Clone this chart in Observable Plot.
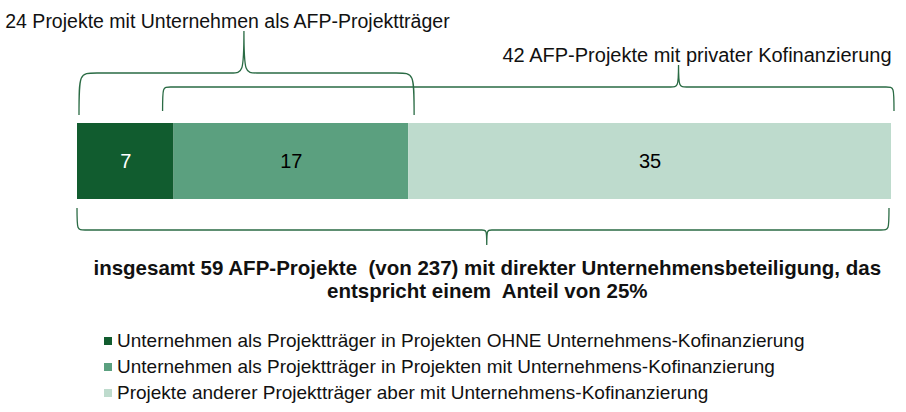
<!DOCTYPE html>
<html>
<head>
<meta charset="utf-8">
<script src="https://cdn.jsdelivr.net/npm/d3@7"></script>
<script src="https://cdn.jsdelivr.net/npm/@observablehq/plot@0.6"></script>
<style>
  body { margin: 0; background: #fff; font-family: "Liberation Sans", Arial, sans-serif; }
  #legend { margin-top: 8px; padding-left: 104px; font-size: 19px; color: #111; }
  #legend .row { height: 26px; line-height: 26px; display: flex; align-items: center; }
  #legend .sw { width: 8px; height: 8px; margin-right: 5px; flex: none; }
</style>
</head>
<body>
<div id="chart"></div>
<div id="legend"></div>
<script>
// ---- data ----
const categories = [
  "Unternehmen als Projektträger in Projekten OHNE Unternehmens-Kofinanzierung",
  "Unternehmen als Projektträger in Projekten mit Unternehmens-Kofinanzierung",
  "Projekte anderer Projektträger aber mit Unternehmens-Kofinanzierung"
];
const values = [7, 17, 35];
const colors = ["#115c2f", "#5ba07f", "#bedbcd"];
const valueColors = ["#ffffff", "#000000", "#000000"];

const braceFrom = [0, 7, 0];
const braceTo = [24, 59, 59];
const bracePeak = [12.1, 43.6, 29.7];
const braceSide = ["top", "top", "bottom"];
const braceLabels = [
  "24 Projekte mit Unternehmen als AFP-Projektträger",
  "42 AFP-Projekte mit privater Kofinanzierung",
  "insgesamt 59 AFP-Projekte  (von 237) mit direkter Unternehmensbeteiligung, das\nentspricht einem  Anteil von 25%"
];

// ---- derived table ----
const ends = d3.cumsum(values);
const rows = categories.map((c, i) => ({
  key: c, value: values[i], x1: ends[i] - values[i], x2: ends[i],
  mid: ends[i] - values[i] / 2, fill: colors[i], tc: valueColors[i], bar: "AFP"
}));
const braces = braceFrom.map((f, i) => ({from: f, to: braceTo[i], peak: bracePeak[i], side: braceSide[i], label: braceLabels[i], bar: "AFP"}));

// brace geometry (pixels, styling)
const braceStyle = [
  {tip: 8, arm: 42, peakH: 42, r: 18, rc: 13, inL: 2, inR: -6},
  {tip: 12, arm: 24, peakH: 22, r: 8, rc: 8, inL: -11, inR: -3},
  {tip: 9, arm: 22, peakH: 15, r: 8, rc: 5, inL: 0, inR: 2}
];

function braceMark(index, scales, values, dimensions) {
  const {x, y} = scales;
  const g = d3.create("svg:g").attr("fill", "none").attr("stroke", "#2a6b44").attr("stroke-width", 1.3);
  const top = y("AFP");
  const bottom = top + y.bandwidth();
  braces.forEach((b, i) => {
    const st = braceStyle[i];
    const s = b.side === "top" ? -1 : 1;
    const base = b.side === "top" ? top : bottom;
    const xa = x(b.from) + st.inL, xb = x(b.to) - st.inR, xc = x(b.peak);
    const yt = base + s * st.tip;
    const yh = yt + s * st.arm;
    const yp = yh + s * st.peakH;
    const p = d3.path();
    p.moveTo(xa, yt);
    p.bezierCurveTo(xa, yh, xa, yh, xa + st.r, yh);
    p.lineTo(xc - st.rc, yh);
    p.bezierCurveTo(xc - st.rc * 0.1, yh, xc, yh, xc, yp);
    p.bezierCurveTo(xc, yh, xc + st.rc * 0.1, yh, xc + st.rc, yh);
    p.lineTo(xb - st.r, yh);
    p.bezierCurveTo(xb, yh, xb, yh, xb, yt);
    g.append("path").attr("d", p.toString());
  });
  return g.node();
}

const plot = Plot.plot({
  width: 906,
  height: 320,
  marginLeft: 77,
  marginRight: 15,
  marginTop: 123,
  marginBottom: 121,
  x: {domain: [0, d3.sum(values)], axis: null},
  y: {domain: ["AFP"], axis: null, padding: 0},
  style: {fontFamily: "'Liberation Sans', Arial, sans-serif"},
  marks: [
    Plot.barX(rows, {x1: "x1", x2: "x2", y: "bar", fill: "fill"}),
    Plot.text(rows, {x: "mid", y: "bar", text: d => String(d.value), fill: "tc", fontSize: 20}),
    braceMark,
    Plot.text(braces.slice(0, 1), {x: "peak", y: "bar", text: "label", dx: -17, dy: -140, fontSize: 19.5, fill: "#111"}),
    Plot.text(braces.slice(1, 2), {x: "peak", y: "bar", text: "label", dx: 18, dy: -106, fontSize: 20, fill: "#111"}),
    Plot.text(braces.slice(2, 3), {x: "peak", y: "bar", text: "label", dy: 118, fontSize: 20.5, fontWeight: "bold", lineHeight: 1.12, fill: "#111"})
  ]
});
document.getElementById("chart").appendChild(plot);

const legend = d3.select("#legend");
categories.forEach((c, i) => {
  const row = legend.append("div").attr("class", "row");
  row.append("span").attr("class", "sw").style("background", colors[i]);
  row.append("span").text(c);
});
</script>
</body>
</html>
